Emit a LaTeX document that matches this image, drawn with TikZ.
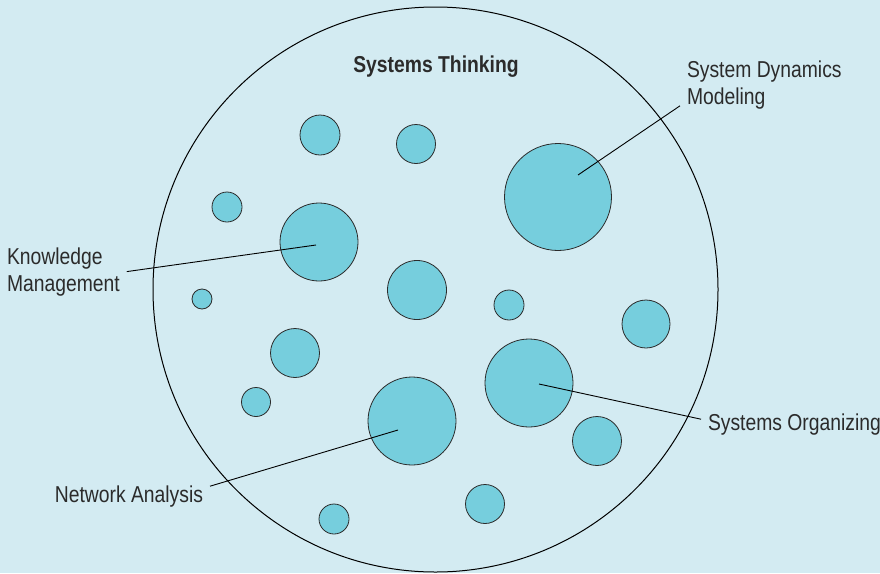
\documentclass[tikz,border=0pt]{standalone}
\usepackage{fontspec}
\setmainfont[FakeStretch=0.84]{Liberation Sans}

\definecolor{bg}{HTML}{D3EBF2}
\definecolor{bubfill}{HTML}{76CEDD}
\definecolor{txt}{HTML}{2B2B2B}

\begin{document}
\begin{tikzpicture}[x=1pt, y=-1pt,
    bub/.style={draw=txt, fill=bubfill, circle, inner sep=0pt, line width=0.8pt},
    lbl/.style={inner sep=0pt, outer sep=7pt, text=txt, align=left, font=\fontsize{23}{27}\selectfont},
    lead/.style={line width=0.9pt}]
    \useasboundingbox (0,0) rectangle (880,573);
    \fill[bg] (0,0) rectangle (880,573);

    \node[draw, circle, inner sep=0pt, minimum size=565, line width=1pt] (st) at (435.5,289.5) {};
    \node[lbl, anchor=base, font=\fontsize{23}{27}\selectfont\bfseries] (title) at (436,72) {Systems Thinking};

    % small bubbles
    \foreach \x/\y/\d [count=\i] in {320/135/40, 416/144/39, 227/207/30, 417/290/59,
        202/299/20, 509/305/30, 646/324/48, 295/353/49, 256/402/29, 597/441/49,
        485/504/39, 334/519/30}
        \node[bub, minimum size=\d] (b\i) at (\x,\y) {};

    % labelled bubbles
    \node[bub, minimum size=78] (km) at (319,242) {};
    \node[bub, minimum size=107] (sdm) at (558,197) {};
    \node[bub, minimum size=88] (sorg) at (529,383) {};
    \node[bub, minimum size=88] (na) at (412,421) {};

    \coordinate (km-pt) at (316,245);
    \coordinate (sdm-pt) at (578,175);
    \coordinate (sorg-pt) at (539,384);
    \coordinate (na-pt) at (398,430);

    \node[lbl, anchor=west] (km-lbl) at (0,271.6) {Knowledge\\Management};
    \node[lbl, anchor=west] (sdm-lbl) at (680,84.6) {System Dynamics\\Modeling};
    \node[lbl, anchor=west] (sorg-lbl) at (701,424.2) {Systems Organizing};
    \node[lbl, anchor=east] (na-lbl) at (210,496.2) {Network Analysis};

    \draw[lead] (km-lbl.east) -- (km-pt);
    \draw[lead] ([yshift=10pt]sdm-lbl.south west) -- (sdm-pt);
    \draw[lead] ([yshift=5pt]sorg-lbl.west) -- (sorg-pt);
    \draw[lead] ([yshift=10pt]na-lbl.east) -- (na-pt);
\end{tikzpicture}
\end{document}
